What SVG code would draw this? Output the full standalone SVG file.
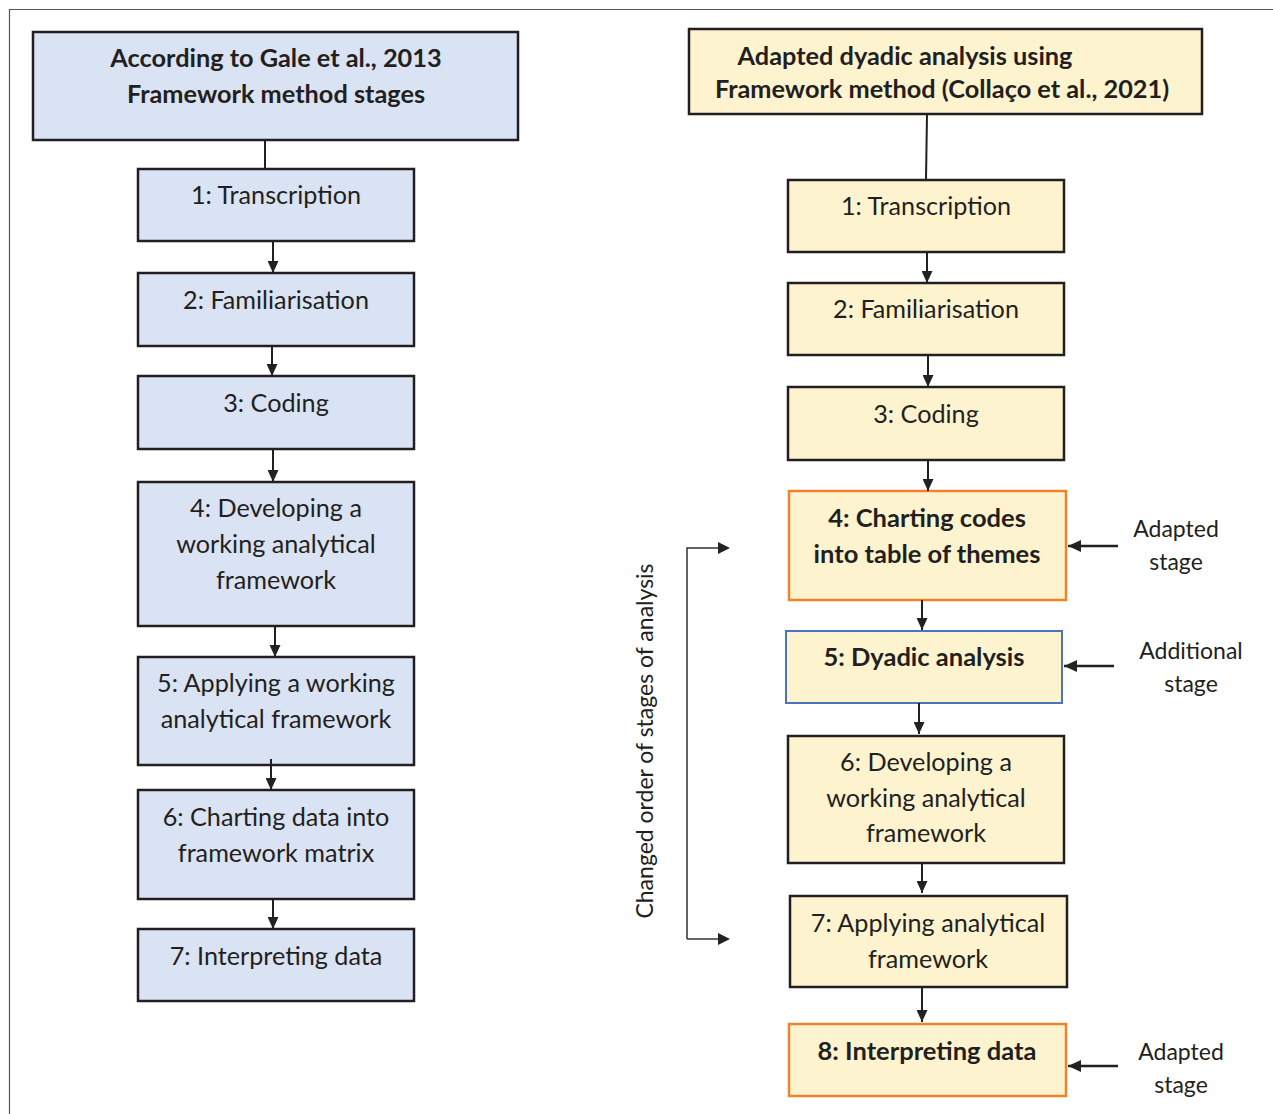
<svg xmlns="http://www.w3.org/2000/svg" width="1273" height="1114" viewBox="0 0 1273 1114">
<defs>
<marker id="ah" viewBox="0 0 10 10" refX="10" refY="5" markerWidth="12" markerHeight="11" markerUnits="userSpaceOnUse" orient="auto" preserveAspectRatio="none"><path d="M0,0 L10,5 L0,10 z" fill="#222"/></marker>
<marker id="ah2" viewBox="0 0 10 10" refX="10" refY="5" markerWidth="13" markerHeight="12" markerUnits="userSpaceOnUse" orient="auto" preserveAspectRatio="none"><path d="M0,0 L10,5 L0,10 z" fill="#222"/></marker>
</defs>
<style>
text{font-family:Lato,"Open Sans","Liberation Sans",sans-serif;fill:#231f20;text-anchor:middle}
.h{font-weight:bold;font-size:25.3px}
.t{font-size:25.2px}
.b{font-weight:bold;font-size:25.5px}
.s{font-size:23px}
.blue{fill:#dae3f3;stroke:#231f20;stroke-width:2.5}
.yel{fill:#fdf3cf;stroke:#231f20;stroke-width:2.5}
.org{fill:#fdf3cf;stroke:#f0822e;stroke-width:2.5}
.bb{fill:#fdf3cf;stroke:#4a74bf;stroke-width:2}
.c{stroke:#231f20;stroke-width:2;fill:none}
.ca{stroke:#231f20;stroke-width:2;fill:none;marker-end:url(#ah)}
.cb{stroke:#231f20;stroke-width:2.5;fill:none;marker-end:url(#ah2)}
.br{stroke:#333;stroke-width:1.5;fill:none}
</style>
<rect x="0" y="0" width="1273" height="1114" fill="#fff"/>
<path d="M9.5,1114 V9.5 H1273" fill="none" stroke="#555" stroke-width="1.2"/>

<g id="left-header"><rect class="blue" x="33" y="32" width="485" height="108"/>
<text class="h" x="276" y="67">According to Gale et al., 2013</text>
<text class="h" x="276" y="103">Framework method stages</text></g>
<g id="l1"><rect class="blue" x="138" y="169" width="276" height="72"/><text class="t" x="276" y="204">1: Transcription</text></g>
<g id="l2"><rect class="blue" x="138" y="273" width="276" height="73"/><text class="t" x="276" y="309">2: Familiarisation</text></g>
<g id="l3"><rect class="blue" x="138" y="376" width="276" height="73"/><text class="t" x="276" y="412">3: Coding</text></g>
<g id="l4"><rect class="blue" x="138" y="482" width="276" height="144"/><text class="t" x="276" y="517">4: Developing a</text><text class="t" x="276" y="553">working analytical</text><text class="t" x="276" y="589">framework</text></g>
<g id="l5"><rect class="blue" x="138" y="657" width="276" height="108"/><text class="t" x="276" y="692">5: Applying a working</text><text class="t" x="276" y="728">analytical framework</text></g>
<g id="l6"><rect class="blue" x="138" y="790" width="276" height="109"/><text class="t" x="276" y="826">6: Charting data into</text><text class="t" x="276" y="862">framework matrix</text></g>
<g id="l7"><rect class="blue" x="138" y="929" width="276" height="72"/><text class="t" x="276" y="965">7: Interpreting data</text></g>

<g id="right-header"><rect class="yel" x="689" y="29" width="513" height="85"/>
<text class="h" x="905" y="65">Adapted dyadic analysis using</text>
<text class="h" x="942" y="98">Framework method (Collaço et al., 2021)</text></g>
<g id="r1"><rect class="yel" x="788" y="180" width="276" height="72"/><text class="t" x="926" y="215">1: Transcription</text></g>
<g id="r2"><rect class="yel" x="788" y="283" width="276" height="72"/><text class="t" x="926" y="318">2: Familiarisation</text></g>
<g id="r3"><rect class="yel" x="788" y="387" width="276" height="73"/><text class="t" x="926" y="423">3: Coding</text></g>
<g id="r4"><rect class="org" x="789" y="491" width="277" height="109"/><text class="b" x="927" y="527">4: Charting codes</text><text class="b" x="927" y="563">into table of themes</text></g>
<g id="r5"><rect class="bb" x="786" y="631" width="276" height="72"/><text class="b" x="924" y="666">5: Dyadic analysis</text></g>
<g id="r6"><rect class="yel" x="788" y="736" width="276" height="127"/><text class="t" x="926" y="771">6: Developing a</text><text class="t" x="926" y="807">working analytical</text><text class="t" x="926" y="842">framework</text></g>
<g id="r7"><rect class="yel" x="790" y="896" width="277" height="91"/><text class="t" x="928" y="932">7: Applying analytical</text><text class="t" x="928" y="968">framework</text></g>
<g id="r8"><rect class="org" x="789" y="1024" width="277" height="72"/><text class="b" x="927" y="1060">8: Interpreting data</text></g>

<g id="note-adapted-1"><text class="s" x="1176" y="537">Adapted</text><text class="s" x="1176" y="570">stage</text></g>
<g id="note-additional"><text class="s" x="1191" y="659">Additional</text><text class="s" x="1191" y="692">stage</text></g>
<g id="note-adapted-2"><text class="s" x="1181" y="1060">Adapted</text><text class="s" x="1181" y="1093">stage</text></g>
<g id="note-changed"><text class="s" transform="translate(653,741) rotate(-90)" x="0" y="0">Changed order of stages of analysis</text></g>

<g id="connectors">
<path class="c" d="M265,140 V169"/>
<path class="ca" d="M273,241 V273"/>
<path class="ca" d="M272,346 V376"/>
<path class="ca" d="M273,449 V482"/>
<path class="ca" d="M275,626 V657"/>
<path class="ca" d="M271,759 V790"/>
<path class="ca" d="M273,899 V929"/>

<path class="c" d="M927,114 L926,180"/>
<path class="ca" d="M927,252 V283"/>
<path class="ca" d="M928,355 V387"/>
<path class="ca" d="M928,460 V491"/>
<path class="ca" d="M922,600 V630"/>
<path class="ca" d="M919,703 V734"/>
<path class="ca" d="M922,863 V893"/>
<path class="ca" d="M922,987 V1022"/>

<path class="cb" d="M1118,546 H1068"/>
<path class="cb" d="M1114,666 H1064"/>
<path class="cb" d="M1118,1066 H1068"/>

<path class="br" d="M687,939 V548 H718"/>
<path class="br" d="M687,939 H718"/>
<path d="M718,542 L730,548 L718,554 z" fill="#222"/>
<path d="M718,933 L730,939 L718,945 z" fill="#222"/>
</g>
</svg>
